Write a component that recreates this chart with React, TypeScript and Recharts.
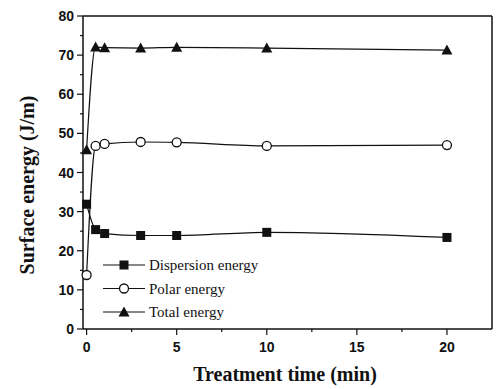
import { Label, Line, LineChart, ReferenceLine, XAxis, YAxis } from 'recharts';

const times = [0, 0.5, 1, 3, 5, 10, 20];
const dispersion = [31.9, 25.4, 24.4, 23.9, 23.9, 24.7, 23.4];
const polar = [13.8, 46.8, 47.3, 47.8, 47.7, 46.8, 47.0];
const total = [45.8, 72.1, 71.9, 71.8, 72.0, 71.8, 71.3];

const xTicks = [0, 2.5, 5, 7.5, 10, 12.5, 15, 17.5, 20];
const yTicks = [0, 5, 10, 15, 20, 25, 30, 35, 40, 45, 50, 55, 60, 65, 70, 75, 80];

const data = times.map((t, i) => ({
  t,
  dispersion: dispersion[i],
  polar: polar[i],
  total: total[i],
}));

const tickFont = { fontFamily: 'Liberation Sans, Arial, sans-serif', fontWeight: 700, fontSize: 14, fill: '#111' };
const serif = 'Liberation Serif, Times New Roman, serif';

const legendItems = [
  { name: 'Dispersion energy', shape: 'square' },
  { name: 'Polar energy', shape: 'circle' },
  { name: 'Total energy', shape: 'triangle' },
];

function Marker({ cx, cy, shape }: { cx: number; cy: number; shape: string }) {
  if (shape === 'square') return <rect x={cx - 4.5} y={cy - 4.5} width={9} height={9} fill="#111" />;
  if (shape === 'circle') return <circle cx={cx} cy={cy} r={4.5} fill="#fff" stroke="#111" strokeWidth={1.3} />;
  return <path d={`M${cx},${cy - 5.5}L${cx + 5.5},${cy + 4.5}L${cx - 5.5},${cy + 4.5}Z`} fill="#111" />;
}

const dot = (shape: string) => (props: any) => (
  <Marker key={`${shape}-${props.index}`} cx={props.cx} cy={props.cy} shape={shape} />
);

function YTick(props: any) {
  const { x, y, payload } = props;
  const major = payload.value % 10 === 0;
  return (
    <g>
      <line x1={x + 3 + (major ? 0 : 3)} x2={x + 9} y1={y} y2={y} stroke="#111" strokeWidth={1.2} />
      {major && (
        <text x={x} y={y} dy={5} textAnchor="end" {...tickFont}>
          {payload.value}
        </text>
      )}
    </g>
  );
}

function XTick(props: any) {
  const { x, y, payload } = props;
  const major = payload.value % 5 === 0;
  return (
    <g>
      <line x1={x} x2={x} y1={y - 9} y2={y - 3 - (major ? 0 : 3)} stroke="#111" strokeWidth={1.2} />
      {major && (
        <text x={x} y={y} dy={14} textAnchor="middle" {...tickFont}>
          {payload.value}
        </text>
      )}
    </g>
  );
}

function LegendBox() {
  return (
    <svg width={180} height={70} style={{ position: 'absolute', left: 101, top: 255 }}>
      {legendItems.map((item, i) => {
        const cy = 10 + i * 23.5;
        return (
          <g key={item.name}>
            <line x1={2} x2={44} y1={cy} y2={cy} stroke="#111" strokeWidth={1.2} />
            <Marker cx={23} cy={cy} shape={item.shape} />
            <text x={48} y={cy + 5} fontFamily={serif} fontSize={15} fill="#111">
              {item.name}
            </text>
          </g>
        );
      })}
    </svg>
  );
}

export default function App() {
  return (
    <div style={{ position: 'absolute', left: 0, top: 0, width: 499, height: 389, background: '#fff' }}>
      <LineChart width={499} height={389} data={data} margin={{ top: 16, right: 7, bottom: 30, left: 38 }}>
        <XAxis
          dataKey="t"
          type="number"
          domain={[-0.2, 22.5]}
          ticks={xTicks}
          tick={<XTick />}
          tickLine={false}
          tickSize={6}
          tickMargin={3}
          height={30}
          axisLine={{ stroke: '#111', strokeWidth: 1.5 }}
          interval={0}
        >
          <Label
            content={() => (
              <text x={285} y={381} textAnchor="middle" fontFamily={serif} fontWeight={700} fontSize={20} fill="#111">
                Treatment time (min)
              </text>
            )}
          />
        </XAxis>
        <YAxis
          type="number"
          domain={[0, 80]}
          ticks={yTicks}
          tick={<YTick />}
          tickLine={false}
          tickSize={6}
          tickMargin={3}
          width={45}
          axisLine={{ stroke: '#111', strokeWidth: 1.5 }}
          interval={0}
        >
          <Label
            content={() => (
              <text
                x={34}
                y={185}
                transform="rotate(-90 34 185)"
                textAnchor="middle"
                fontFamily={serif}
                fontWeight={700}
                fontSize={20}
                fill="#111"
              >
                Surface energy (J/m)
              </text>
            )}
          />
        </YAxis>
        <ReferenceLine y={80} stroke="#111" strokeWidth={1.5} />
        <ReferenceLine x={22.5} stroke="#111" strokeWidth={1.5} />
        <Line type="monotone" dataKey="dispersion" stroke="#111" strokeWidth={1.2} dot={dot('square')} isAnimationActive={false} />
        <Line type="monotone" dataKey="polar" stroke="#111" strokeWidth={1.2} dot={dot('circle')} isAnimationActive={false} />
        <Line type="monotone" dataKey="total" stroke="#111" strokeWidth={1.2} dot={dot('triangle')} isAnimationActive={false} />
      </LineChart>
      <LegendBox />
    </div>
  );
}
